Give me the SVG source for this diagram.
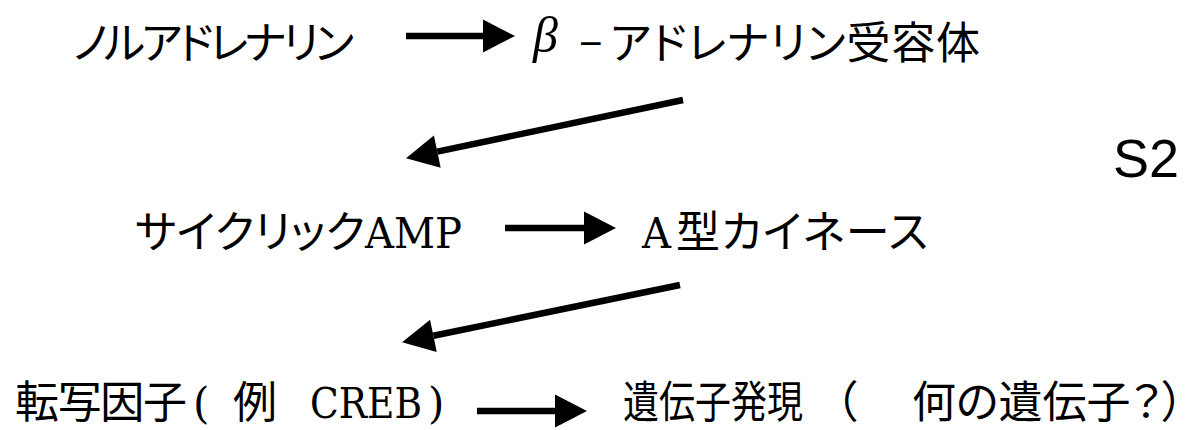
<svg xmlns="http://www.w3.org/2000/svg" width="1200" height="430" viewBox="0 0 1200 430">
<style>
.jp{font-family:"Noto Sans CJK JP","Noto Sans CJK SC",sans-serif;font-size:44px;fill:#000;font-feature-settings:"palt"}
.lat{font-family:"DejaVu Serif","Liberation Serif",serif;font-size:42px;fill:#000}
.beta{font-family:"Liberation Serif",serif;font-style:italic;font-size:50px;fill:#000}
.s2{font-family:"Liberation Sans",Arial,sans-serif;font-size:54px;fill:#000}
.conn line{stroke:#000;stroke-width:6.5;fill:none;marker-end:url(#ah)}
</style>
<defs>
<marker id="ah" markerUnits="userSpaceOnUse" markerWidth="32" markerHeight="33" refX="0" refY="16.5" orient="auto" overflow="visible">
<path d="M0,0 L32,16.5 L0,33 Z" fill="#000"/>
</marker>
</defs>
<g id="noradrenaline"><text class="jp" x="73" y="59" textLength="281" lengthAdjust="spacing">ノルアドレナリン</text></g>
<g id="beta-receptor"><text y="59"><tspan class="beta" x="533" y="52">β</tspan><tspan class="jp" x="579" y="56">–</tspan><tspan class="jp" x="610" y="59" textLength="370" lengthAdjust="spacing">アドレナリン受容体</tspan></text></g>
<g id="s2"><text class="s2" x="1113" y="177">S2</text></g>
<g id="camp"><text y="248"><tspan class="jp" x="135" textLength="230" lengthAdjust="spacing">サイクリック</tspan><tspan class="lat" x="365" textLength="97" lengthAdjust="spacingAndGlyphs">AMP</tspan></text></g>
<g id="pka"><text y="248"><tspan class="lat" x="642" textLength="29" lengthAdjust="spacingAndGlyphs">A</tspan><tspan class="jp" x="676" textLength="252" lengthAdjust="spacing">型カイネース</tspan></text></g>
<g id="creb"><text y="418"><tspan class="jp" x="15" textLength="172" lengthAdjust="spacing">転写因子</tspan><tspan class="lat" x="193">(</tspan><tspan class="jp" x="233">例</tspan><tspan class="lat" x="310" textLength="112" lengthAdjust="spacingAndGlyphs">CREB</tspan><tspan class="lat" x="428">)</tspan></text></g>
<g id="gene-expression"><text y="418"><tspan class="jp" x="623" textLength="180" lengthAdjust="spacingAndGlyphs">遺伝子発現</tspan><tspan class="jp" x="835">（</tspan><tspan class="jp" x="912">何の遺伝子？）</tspan></text></g>
<g id="connectors" class="conn">
<line x1="406" y1="36" x2="483" y2="36"/>
<line x1="683" y1="100" x2="437.3" y2="151.6"/>
<line x1="505" y1="228" x2="584" y2="228"/>
<line x1="680" y1="285" x2="433.4" y2="335.8"/>
<line x1="477" y1="411" x2="555" y2="411"/>
</g>
</svg>
